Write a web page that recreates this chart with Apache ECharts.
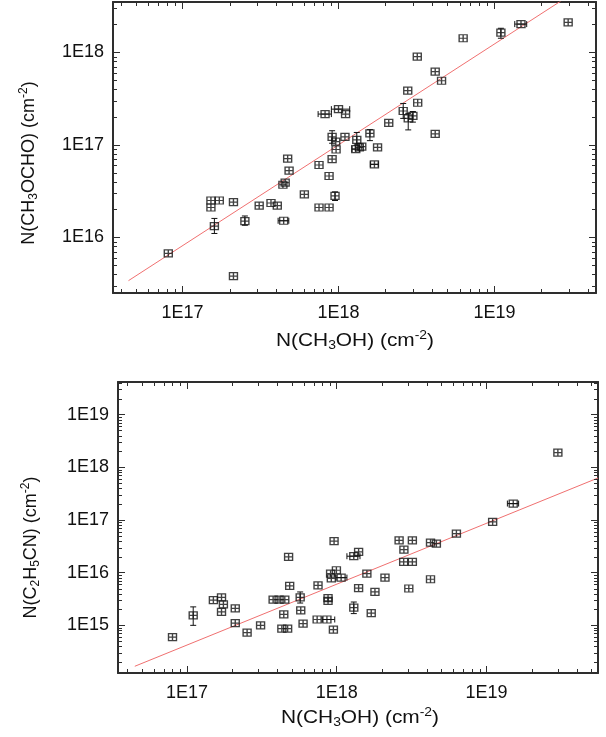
<!DOCTYPE html>
<html><head><meta charset="utf-8">
<script src="https://cdn.jsdelivr.net/npm/echarts@6/dist/echarts.min.js"></script>
<style>html,body{margin:0;padding:0;background:#fff}#c{width:606px;height:737px}</style>
</head><body><div id="c"></div>
<script>
// ---------- Top panel: N(CH3OCHO) vs N(CH3OH) ----------
const topX = [0.81e17,1.52e17,1.52e17,1.72e17,1.6e17,2.12e17,2.12e17,2.51e17,3.1e17,3.69e17,
  4.05e17,4.45e17,4.4e17,4.55e17,4.72e17,4.82e17,6.04e17,7.5e17,7.5e17,8.7e17,
  8.7e17,9.1e17,8.2e17,1.0e18,1.11e18,9.1e17,9.6e17,9.65e17,9.5e17,1.1e18,
  1.31e18,1.29e18,1.41e18,1.36e18,1.59e18,1.7e18,1.78e18,2.1e18,2.78e18,2.6e18,
  2.8e18,3.0e18,3.2e18,3.22e18,4.17e18,4.17e18,4.58e18,6.3e18,1.1e19,1.48e19,2.97e19];
const topY = [6.7e15,2.1e16,2.5e16,2.5e16,1.32e16,2.4e16,3.8e15,1.5e16,2.2e16,2.35e16,
  2.2e16,1.51e16,3.7e16,3.9e16,7.1e16,5.25e16,2.92e16,6.05e16,2.1e16,2.1e16,
  4.6e16,7.0e16,2.15e17,2.43e17,2.15e17,1.22e17,1.08e17,8.9e16,2.8e16,1.22e17,
  1.13e17,9.0e16,9.55e16,9.4e16,1.33e17,6.15e16,9.4e16,1.73e17,3.85e17,2.32e17,
  1.93e17,2.05e17,8.97e17,2.85e17,6.17e17,1.31e17,4.93e17,1.42e18,1.63e18,2.02e18,2.11e18];
// vertical error bars: [x, y, low, high]
const topYErr = [[1.6e17,1.32e16,1.1e16,1.6e16],[2.51e17,1.5e16,1.35e16,1.7e16],
  [9.1e17,1.22e17,1.04e17,1.42e17],[9.5e17,2.8e16,2.5e16,3.1e16],[1.31e18,1.13e17,9.95e16,1.36e17],
  [1.59e18,1.33e17,1.11e17,1.46e17],[2.6e18,2.32e17,1.93e17,2.8e17],[2.8e18,1.93e17,1.45e17,2.19e17],
  [3.0e18,2.05e17,1.76e17,2.29e17],[1.1e19,1.63e18,1.42e18,1.82e18]];
// horizontal error bars: [x, y, low, high]
const topXErr = [[4.45e17,1.51e16,4.1e17,4.8e17],[8.2e17,2.15e17,7.4e17,9.0e17],
  [1.0e18,2.43e17,9.0e17,1.18e18],[1.29e18,9.0e16,1.22e18,1.36e18],
  [1.7e18,6.15e16,1.6e18,1.8e18],[1.48e19,2.02e18,1.35e19,1.61e19]];
const topFitX = [4.5e16, 2.67e19];
const topFitY = [3.4e15, 3.59e18];
const topXRange = [3.58e16, 4.48e19];
const topYRange = [2.5e15, 3.5e18];
const topXTicks = ['1E17','1E18','1E19'];
const topYTicks = ['1E16','1E17','1E18'];

// ---------- Bottom panel: N(C2H5CN) vs N(CH3OH) ----------
const botX = [0.8e17,1.1e17,1.5e17,1.7e17,1.75e17,1.7e17,2.1e17,2.1e17,2.52e17,3.1e17,
  3.76e17,4.12e17,4.5e17,4.43e17,4.3e17,4.7e17,4.77e17,4.85e17,5.7e17,5.75e17,
  5.96e17,7.5e17,7.4e17,8.6e17,8.75e17,8.75e17,9.5e17,9.6e17,9.1e17,9.2e17,
  9.95e17,1.07e18,1.3e18,1.4e18,1.59e18,1.4e18,1.8e18,1.3e18,1.7e18,2.1e18,
  2.61e18,2.81e18,2.8e18,3.2e18,3.2e18,3.03e18,4.23e18,4.63e18,4.23e18,6.3e18,
  1.1e19,1.51e19,3.0e19];
const botY = [6.0e14,1.55e15,3.0e15,3.4e15,2.5e15,1.8e15,2.1e15,1.1e15,7.3e14,1.0e15,
  3.08e15,3.08e15,3.08e15,1.62e15,8.7e14,8.7e14,2.0e16,5.6e15,3.4e15,1.93e15,
  1.08e15,5.75e15,1.29e15,1.29e15,3.3e15,2.9e15,8.3e14,3.95e16,9.6e15,7.8e15,
  1.11e16,8.05e15,2.05e16,2.47e16,9.6e15,5.1e15,4.3e15,2.17e15,1.7e15,8.05e15,
  4.1e16,2.74e16,1.6e16,1.6e16,4.1e16,5.0e15,3.7e16,3.55e16,7.5e15,5.5e16,
  9.2e16,2.05e17,1.9e18];
const botYErr = [[1.1e17,1.55e15,1.0e15,2.24e15],[5.7e17,3.4e15,2.65e15,4.3e15],[1.3e18,2.17e15,1.67e15,2.77e15]];
const botXErr = [[8.6e17,1.29e15,8.0e17,9.7e17],[1.07e18,8.05e15,9.9e17,1.17e18],
  [1.3e18,2.05e16,1.17e18,1.43e18],[1.51e19,2.05e17,1.38e19,1.64e19]];
const botFitX = [4.48e16, 5.56e19];
const botFitY = [1.67e14, 6.27e17];
const botXRange = [3.46e16, 5.56e19];
const botYRange = [1.245e14, 4.16e19];
const botXTicks = ['1E17','1E18','1E19'];
const botYTicks = ['1E15','1E16','1E17','1E18','1E19'];

const FONT = '"Liberation Sans", Arial, Helvetica, sans-serif';
const INK = '#111';
const FRAME = '#2e2e2e';

function labelFmt(list) {
  return function (v) {
    const l = Math.log10(v), e = Math.round(l);
    if (Math.abs(l - e) > 1e-6) return '';
    const s = '1E' + e;
    return list.indexOf(s) >= 0 ? s : '';
  };
}
function minorValues(range) {
  const out = [];
  const e0 = Math.floor(Math.log10(range[0])), e1 = Math.ceil(Math.log10(range[1]));
  for (let e = e0; e <= e1; e++) for (let k = 2; k <= 9; k++) {
    const v = k * Math.pow(10, e);
    if (v > range[0] && v < range[1]) out.push(v);
  }
  return out;
}
const rich = {
  n: {fontSize: 18, lineHeight: 22, fontFamily: FONT, color: INK, fill: INK},
  s: {fontSize: 12, lineHeight: 12, padding: [10, 0, 0, 0], fontFamily: FONT, color: INK, fill: INK},
  p: {fontSize: 12, lineHeight: 12, padding: [0, 0, 10, 0], fontFamily: FONT, color: INK, fill: INK}
};
function mainX(gi, range, ticks) {
  return {type: 'log', gridIndex: gi, min: range[0], max: range[1], position: 'bottom',
    axisLine: {show: true, lineStyle: {color: FRAME, width: 2}},
    axisTick: {show: true, inside: true, length: 7, lineStyle: {color: FRAME, width: 1}},
    splitLine: {show: false},
    axisLabel: {show: true, margin: 11, fontSize: 18, color: INK, fontFamily: FONT,
      showMinLabel: false, showMaxLabel: false, formatter: labelFmt(ticks)}};
}
function mainY(gi, range, ticks, name, gap, shift) {
  return {type: 'log', gridIndex: gi, min: range[0], max: range[1], position: 'left',
    axisLine: {show: true, lineStyle: {color: FRAME, width: 2}},
    axisTick: {show: true, inside: true, length: 7, lineStyle: {color: FRAME, width: 1}},
    splitLine: {show: false},
    axisLabel: {show: true, margin: 9, fontSize: 18, color: INK, fontFamily: FONT,
      showMinLabel: false, showMaxLabel: false, formatter: labelFmt(ticks)},
    name: name, nameLocation: 'middle', nameGap: gap,
    nameTextStyle: {rich: rich, padding: [0, shift, 0, 0]}};
}
function mirror(gi, range, pos) {
  return {type: 'log', gridIndex: gi, min: range[0], max: range[1], position: pos,
    axisLine: {show: true, lineStyle: {color: FRAME, width: 2}},
    axisTick: {show: true, inside: true, length: 7, lineStyle: {color: FRAME, width: 1}},
    splitLine: {show: false}, axisLabel: {show: false}};
}
function minorSeries(xi, yi, vals, other, isX) {
  return {type: 'custom', xAxisIndex: xi, yAxisIndex: yi, silent: true, z: 3,
    data: vals.map(v => isX ? [v, other] : [other, v]),
    renderItem: function (params, api) {
      const cs = params.coordSys;
      const p = api.coord([api.value(0), api.value(1)]);
      const L = 4, st = {stroke: FRAME, lineWidth: 1};
      if (isX) {
        const x = Math.round(p[0]) + 0.5;
        return {type: 'group', children: [
          {type: 'line', shape: {x1: x, y1: cs.y + cs.height, x2: x, y2: cs.y + cs.height - L}, style: st},
          {type: 'line', shape: {x1: x, y1: cs.y, x2: x, y2: cs.y + L}, style: st}]};
      } else {
        const y = Math.round(p[1]) + 0.5;
        return {type: 'group', children: [
          {type: 'line', shape: {x1: cs.x, y1: y, x2: cs.x + L, y2: y}, style: st},
          {type: 'line', shape: {x1: cs.x + cs.width, y1: y, x2: cs.x + cs.width - L, y2: y}, style: st}]};
      }
    }};
}
function errSeries(xi, yi, rows, vertical) {
  return {type: 'custom', xAxisIndex: xi, yAxisIndex: yi, silent: true, z: 4,
    data: rows,
    renderItem: function (params, api) {
      const x = api.value(0), y = api.value(1), lo = api.value(2), hi = api.value(3);
      const st = {stroke: INK, lineWidth: 1};
      const c = 3;
      if (vertical) {
        const a = api.coord([x, lo]), b = api.coord([x, hi]);
        return {type: 'group', children: [
          {type: 'line', shape: {x1: a[0], y1: a[1], x2: b[0], y2: b[1]}, style: st},
          {type: 'line', shape: {x1: a[0] - c, y1: a[1], x2: a[0] + c, y2: a[1]}, style: st},
          {type: 'line', shape: {x1: b[0] - c, y1: b[1], x2: b[0] + c, y2: b[1]}, style: st}]};
      } else {
        const a = api.coord([lo, y]), b = api.coord([hi, y]);
        return {type: 'group', children: [
          {type: 'line', shape: {x1: a[0], y1: a[1], x2: b[0], y2: b[1]}, style: st},
          {type: 'line', shape: {x1: a[0], y1: a[1] - c, x2: a[0], y2: a[1] + c}, style: st},
          {type: 'line', shape: {x1: b[0], y1: b[1] - c, x2: b[0], y2: b[1] + c}, style: st}]};
      }
    }};
}
const SYM = 'path://M0,0L10,0L10,10L0,10Z M5,0L5,10 M0,5L10,5';
function scatter(xi, yi, xs, ys) {
  return {type: 'scatter', xAxisIndex: xi, yAxisIndex: yi, symbol: SYM, symbolSize: [8, 7],
    z: 5, silent: true,
    itemStyle: {color: 'rgba(255,255,255,0)', borderColor: INK, borderWidth: 1.3},
    data: xs.map((x, i) => [x, ys[i]])};
}
function fit(xi, yi, xs, ys) {
  return {type: 'line', xAxisIndex: xi, yAxisIndex: yi, symbol: 'none', z: 2, silent: true,
    clip: true, lineStyle: {color: '#f07070', width: 1}, data: xs.map((x, i) => [x, ys[i]])};
}

const nameX = '{n|N(CH}{s|3}{n|OH) (cm}{p|-2}{n|)}';
const nameYTop = '{n|N(CH}{s|3}{n|OCHO) (cm}{p|-2}{n|)}';
const nameYBot = '{n|N(C}{s|2}{n|H}{s|5}{n|CN) (cm}{p|-2}{n|)}';

function xTitle(cx, cy) {
  return {type: 'text', x: cx, y: cy, scaleX: 1.16, z: 10, silent: true,
    style: {text: nameX, rich: rich, align: 'center', verticalAlign: 'middle',
      fontFamily: FONT, fontSize: 18, fill: INK}};
}

const chart = echarts.init(document.getElementById('c'), null, {renderer: 'canvas'});
chart.setOption({
  animation: false,
  backgroundColor: '#fff',
  grid: [
    {left: 113, top: 2, width: 483, height: 291, outerBoundsMode: 'none'},
    {left: 118, top: 382, width: 480, height: 291, outerBoundsMode: 'none'}
  ],
  graphic: [xTitle(355, 341), xTitle(360, 718)],
  xAxis: [
    mainX(0, topXRange, topXTicks),
    mirror(0, topXRange, 'top'),
    mainX(1, botXRange, botXTicks),
    mirror(1, botXRange, 'top')
  ],
  yAxis: [
    mainY(0, topYRange, topYTicks, nameYTop, 73, 31),
    mirror(0, topYRange, 'right'),
    mainY(1, botYRange, botYTicks, nameYBot, 76, 40),
    mirror(1, botYRange, 'right')
  ],
  series: [
    minorSeries(0, 0, minorValues(topXRange), topYRange[0], true),
    minorSeries(0, 0, minorValues(topYRange), topXRange[0], false),
    minorSeries(2, 2, minorValues(botXRange), botYRange[0], true),
    minorSeries(2, 2, minorValues(botYRange), botXRange[0], false),
    fit(0, 0, topFitX, topFitY),
    fit(2, 2, botFitX, botFitY),
    errSeries(0, 0, topYErr, true),
    errSeries(0, 0, topXErr, false),
    errSeries(2, 2, botYErr, true),
    errSeries(2, 2, botXErr, false),
    scatter(0, 0, topX, topY),
    scatter(2, 2, botX, botY)
  ]
});
</script></body></html>
